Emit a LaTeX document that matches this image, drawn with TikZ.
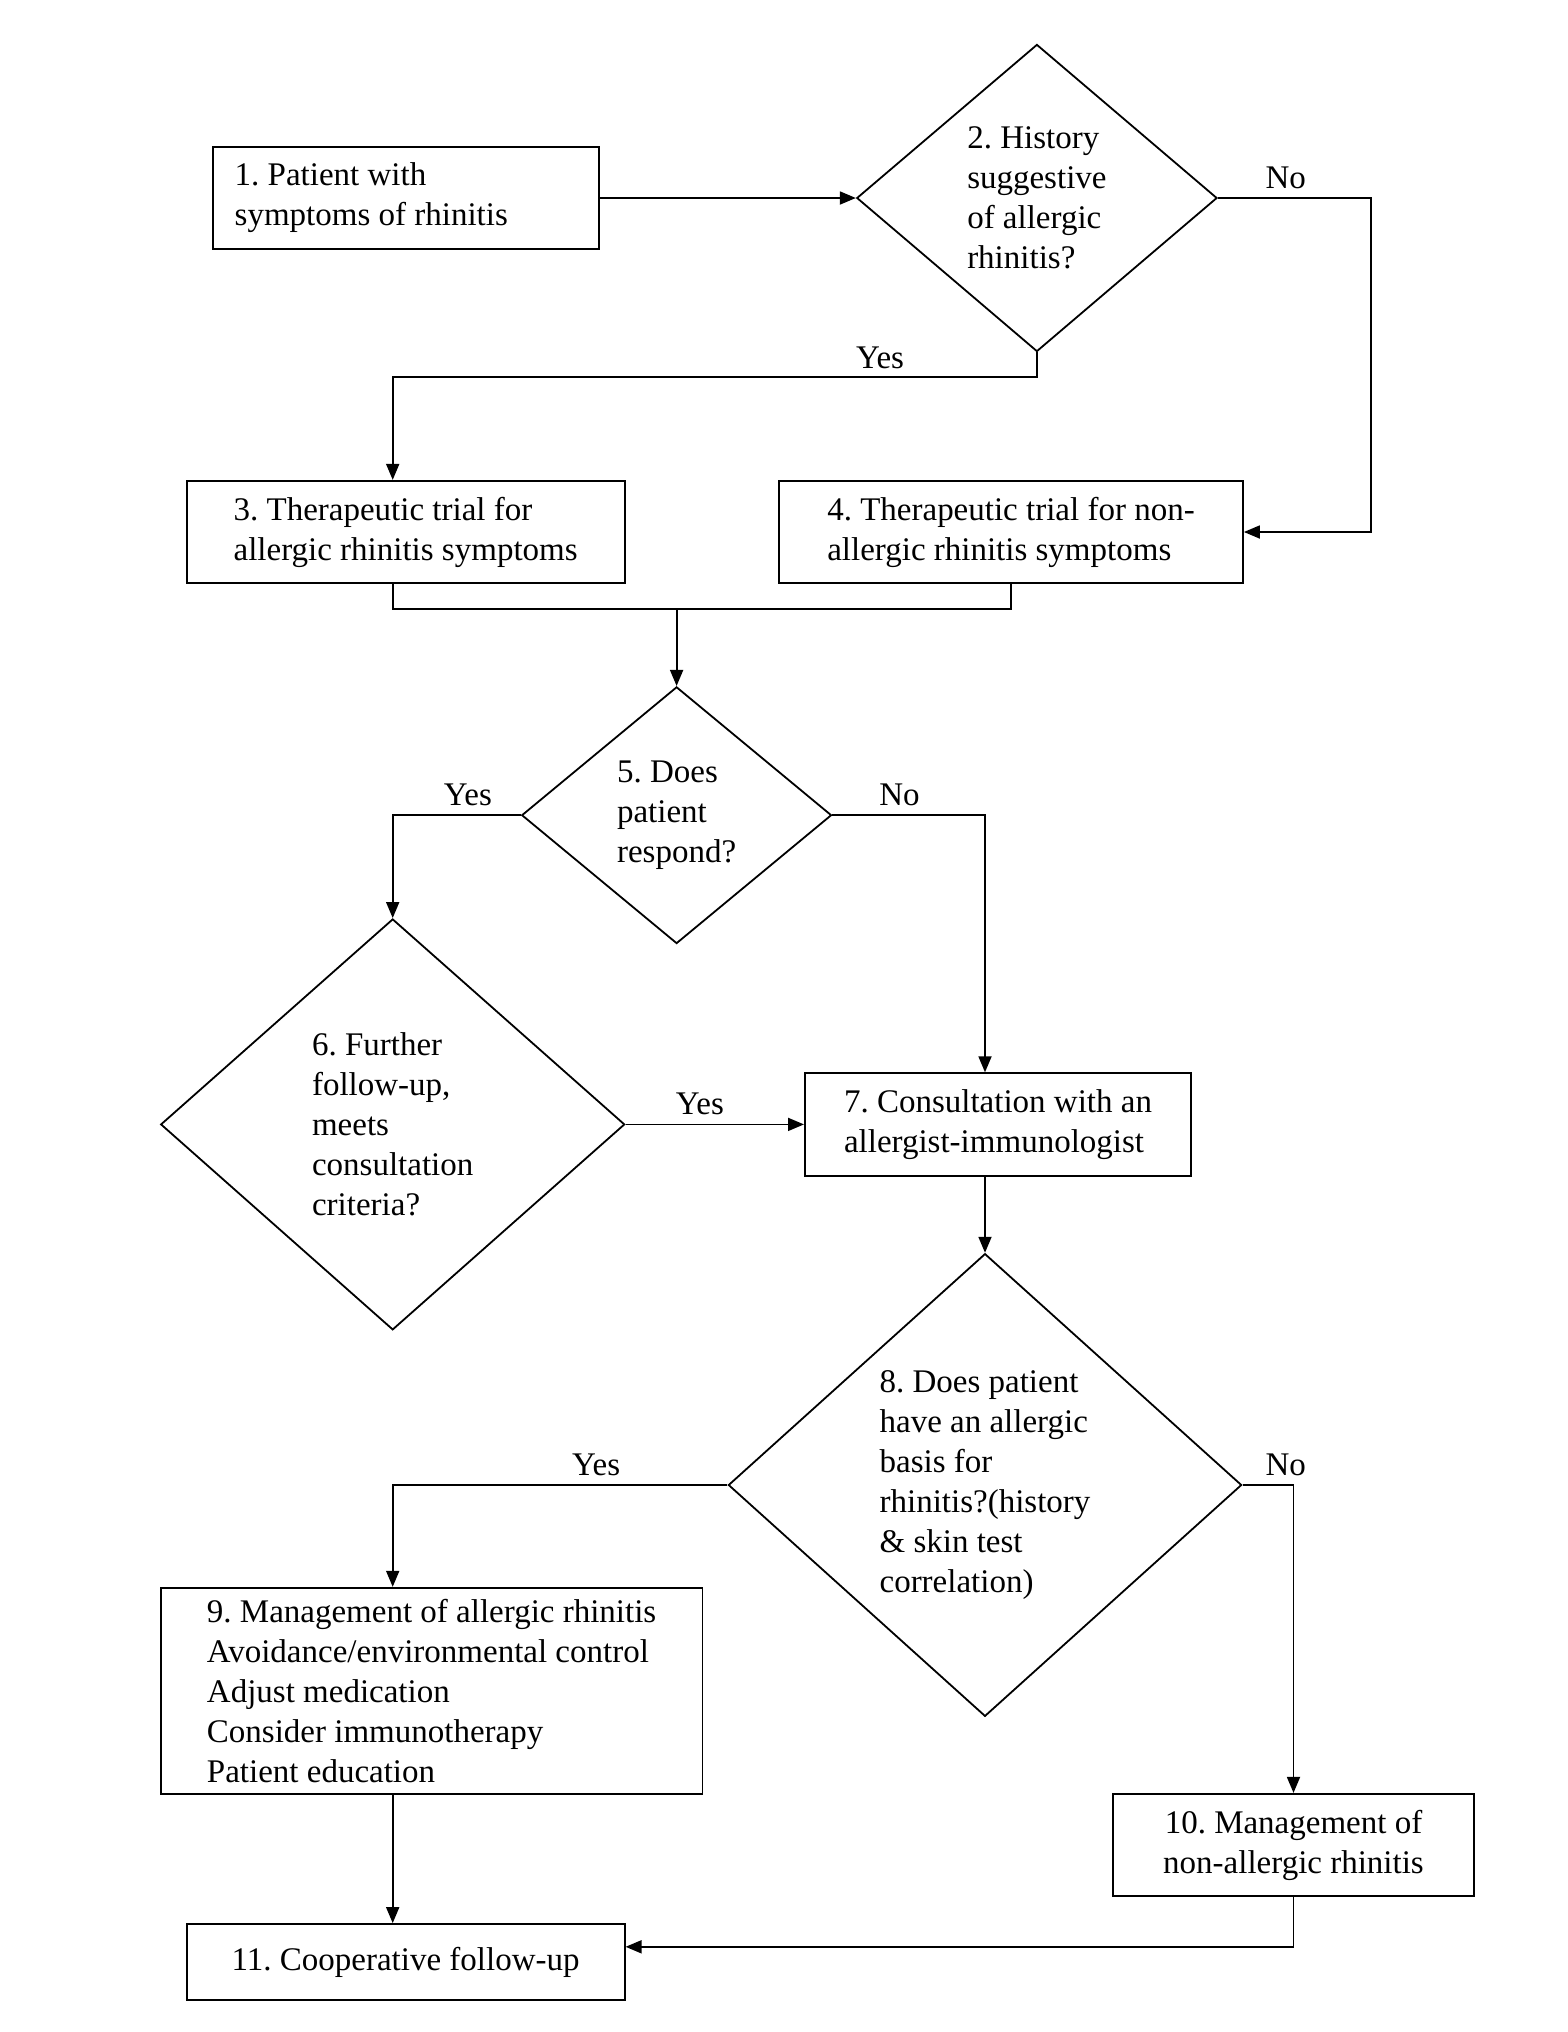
\documentclass[tikz,border=0pt]{standalone}
\usepackage{fontspec}
\setmainfont{Liberation Serif}
\usetikzlibrary{shapes.geometric,arrows.meta,calc}
\frenchspacing
\begin{document}
\begin{tikzpicture}[x=1pt,y=-1pt,
  every node/.style={font=\fontsize{33}{40}\selectfont},
  box/.style={draw,line width=1.8pt,rectangle,align=left,inner sep=0pt},
  dia/.style={draw,line width=1.8pt,diamond,align=left,inner sep=0pt},
  lbl/.style={inner sep=0pt},
  ln/.style={line width=1.8pt},
  arr/.style={ln,-{Triangle[length=16pt,width=13pt]}}]
\fill[white] (0,0) rectangle (1567,2032);
\useasboundingbox (0,0) rectangle (1567,2032);

% boxes
\node[box,align=flush left,minimum width=386.2pt,minimum height=102.4pt,text width=342pt] (b1) at (405.7,198) {1. Patient with\\symptoms of rhinitis};
\node[box,minimum width=438.1pt,minimum height=102.4pt] (b3) at (405.65,532) {3. Therapeutic trial for\\allergic rhinitis symptoms};
\node[box,minimum width=464pt,minimum height=102.4pt] (b4) at (1011,532) {4. Therapeutic trial for non-\\allergic rhinitis symptoms};
\node[box,minimum width=386.2pt,minimum height=102.4pt] (b7) at (998,1124.4) {7. Consultation with an\\allergist-immunologist};
\node[box,minimum width=541.8pt,minimum height=206.1pt] (b9) at (431.6,1690.8) {9. Management of allergic rhinitis\\Avoidance/environmental control\\Adjust medication\\Consider immunotherapy\\Patient education};
\node[box,align=center,minimum width=360.3pt,minimum height=102.4pt] (b10) at (1293.5,1845) {10. Management of\\non-allergic rhinitis};
\node[box,align=center,minimum width=438.1pt,minimum height=76pt] (b11) at (405.65,1962) {11. Cooperative follow-up};

% diamonds
\node[dia,minimum width=360.3pt,minimum height=307.1pt] (d2) at (1036.9,198) {2. History\\suggestive\\of allergic\\rhinitis?};
\node[dia,minimum width=309.8pt,minimum height=256.7pt] (d5) at (676.6,815.2) {5. Does\\patient\\respond?};
\node[dia,minimum width=464pt,minimum height=410.9pt] (d6) at (392.7,1124.4) {6. Further\\follow-up,\\meets\\consultation\\criteria?};
\node[dia,minimum width=513.3pt,minimum height=462.7pt] (d8) at (985,1485) {8. Does patient\\have an allergic\\basis for\\rhinitis?(history\\\& skin test\\correlation)};

% connectors
\draw[arr] (b1.east) -- (d2.west);
\coordinate (no2) at (1371.3,198);
\draw[arr] (d2.east) -- (no2) |- (b4.east);
\coordinate (y2) at (392.7,377.2);
\draw[arr] (d2.south) |- (y2) -- (y2 |- b3.north);
\coordinate (m3) at (392.7,609.2);
\coordinate (m4) at (1011,609.2);
\draw[ln] (m3 |- b3.south) -- (m3) -- (m4) -- (b4.south);
\draw[arr] (d5.north |- m3) -- (d5.north);
\draw[arr] (d5.west) -| (d6.north);
\coordinate (n5) at (985,815.2);
\draw[arr] (d5.east) -- (n5) -- (n5 |- b7.north);
\draw[arr] (d6.east) -- (b7.west);
\draw[arr] (d8.north |- b7.south) -- (d8.north);
\coordinate (y8) at (392.7,1485);
\draw[arr] (d8.west) -- (y8) -- (y8 |- b9.north);
\draw[arr] (d8.east) -| (b10.north);
\draw[arr] (y8 |- b9.south) -- (y8 |- b11.north);
\coordinate (t10) at (1293.5,1946.8);
\draw[arr] (b10.south) -- (t10) -- (t10 -| b11.east);

% labels
\node[lbl] (lno2) at (1285.7,177.6) {No};
\node[lbl] (lyes2) at (880,357.7) {Yes};
\node[lbl] (lyes5) at (467.9,794.5) {Yes};
\node[lbl] (lno5) at (899.5,794.5) {No};
\node[lbl] (lyes6) at (699.9,1104.3) {Yes};
\node[lbl] (lyes8) at (596.2,1464.6) {Yes};
\node[lbl] (lno8) at (1285.7,1464.6) {No};
\end{tikzpicture}
\end{document}
